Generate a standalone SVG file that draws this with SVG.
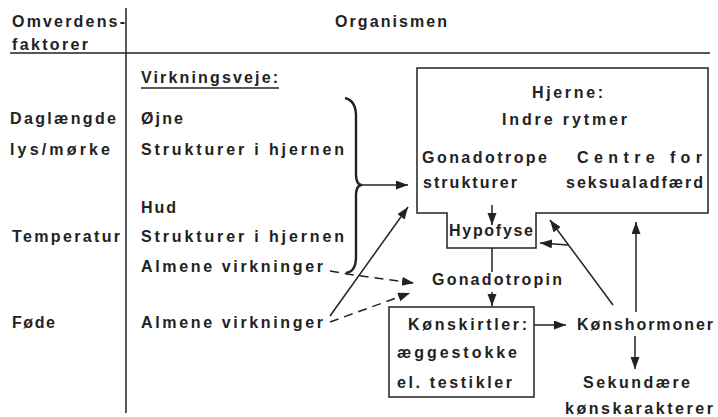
<svg xmlns="http://www.w3.org/2000/svg" width="718" height="417" viewBox="0 0 718 417">
<style>
text{font-family:"Liberation Sans",Arial,sans-serif;font-size:16px;font-weight:bold;fill:#222}
.ln{stroke:#222;stroke-width:1.5;fill:none}
.dash{stroke:#222;stroke-width:1.5;fill:none;stroke-dasharray:9,6}
.brace{stroke:#222;stroke-width:2.4;fill:none}
</style>
<defs>
<marker id="ah" markerUnits="userSpaceOnUse" markerWidth="13" markerHeight="10" refX="12" refY="4.5" orient="auto">
<path d="M0,0 L12,4.5 L0,9 Z" fill="#222"/>
</marker>
</defs>
<rect width="718" height="417" fill="#fff"/>
<g id="table">
<path class="ln" d="M10,53 L710,53"/>
<path class="ln" d="M126,8 L126,413"/>
<path class="ln" d="M141,88 L279,88"/>
<text x="12" y="27" textLength="113">Omverdens-</text>
<text x="12" y="50" textLength="76">faktorer</text>
<text x="335" y="27" textLength="112">Organismen</text>
<text x="141" y="83" textLength="137">Virkningsveje:</text>
</g>
<g id="factors">
<text x="10" y="124" textLength="106">Daglængde</text>
<text x="10" y="155" textLength="100">lys/mørke</text>
<text x="12" y="242" textLength="108">Temperatur</text>
<text x="12" y="328" textLength="43">Føde</text>
</g>
<g id="pathways">
<text x="141" y="124" textLength="42">Øjne</text>
<text x="141" y="155" textLength="203">Strukturer i hjernen</text>
<text x="141" y="213" textLength="35">Hud</text>
<text x="141" y="242" textLength="203">Strukturer i hjernen</text>
<text x="141" y="272" textLength="182">Almene virkninger</text>
<text x="141" y="328" textLength="182">Almene virkninger</text>
<path class="brace" d="M345,98 C353,100 356,106 356,116 L356,174 C356,181 358,185 362,185 C358,185 356,189 356,196 L356,257 C356,267 353,272 346,273"/>
</g>
<g id="hjerne">
<path class="ln" d="M417,68 L708,68 L708,213 L536,213 L536,248 L447,248 L447,213 L417,213 Z"/>
<text x="532" y="98" textLength="71">Hjerne:</text>
<text x="502" y="125" textLength="125">Indre rytmer</text>
<text x="422" y="163" textLength="125">Gonadotrope</text>
<text x="423" y="188" textLength="94">strukturer</text>
<text x="577" y="163" textLength="125">Centre for</text>
<text x="566" y="188" textLength="137">seksualadfærd</text>
<text x="449" y="236" textLength="84">Hypofyse</text>
</g>
<g id="gonadotropin">
<text x="432" y="285" textLength="130">Gonadotropin</text>
</g>
<g id="konskirtler">
<rect class="ln" x="389" y="307" width="145" height="90"/>
<text x="408" y="330" textLength="119">Kønskirtler:</text>
<text x="397" y="358" textLength="120">æggestokke</text>
<text x="397" y="388" textLength="115">el. testikler</text>
</g>
<g id="konshormoner">
<text x="577" y="330" textLength="136">Kønshormoner</text>
</g>
<g id="sekundaere">
<text x="583" y="388" textLength="107">Sekundære</text>
<text x="565" y="414" textLength="148">kønskarakterer</text>
</g>
<g id="connectors">
<path class="ln" d="M362,185 L408,185" marker-end="url(#ah)"/>
<path class="ln" d="M330,316 L408,207" marker-end="url(#ah)"/>
<path class="dash" d="M330,271 L347,274 L414,283" marker-end="url(#ah)"/>
<path class="dash" d="M330,322 L410,293" marker-end="url(#ah)"/>
<path class="ln" d="M492,205 L492,225" marker-end="url(#ah)"/>
<path class="ln" d="M492,248 L492,272"/>
<path class="ln" d="M492,292 L492,306" marker-end="url(#ah)"/>
<path class="ln" d="M534,325 L566,325" marker-end="url(#ah)"/>
<path class="ln" d="M635,336 L635,369" marker-end="url(#ah)"/>
<path class="ln" d="M636,312 L636,222" marker-end="url(#ah)"/>
<path class="ln" d="M613,305 L550,220" marker-end="url(#ah)"/>
<path class="ln" d="M568,245 L540,243" marker-end="url(#ah)"/>
</g>
</svg>
